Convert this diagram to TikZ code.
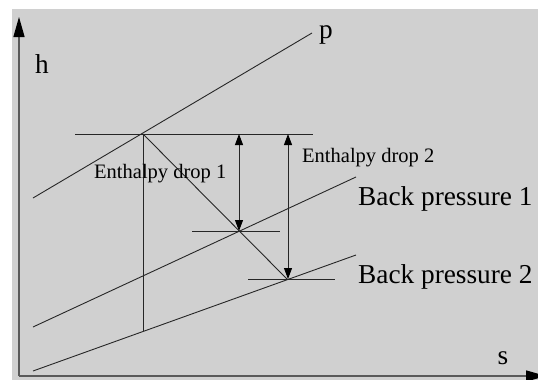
\documentclass[tikz,border=0pt]{standalone}
\usepackage{fontspec}
\setmainfont{Liberation Serif}
\usetikzlibrary{arrows.meta}
\definecolor{panel}{RGB}{208,208,208}

\begin{document}
\begin{tikzpicture}[x=1pt,y=-1pt]

\tikzstyle{LINE} = [line width=0.9pt, black!85]
\tikzstyle{AXIS} = [line width=1.5pt, black!65, -{Triangle[length=20pt,width=11pt,black]}]
\tikzstyle{DROP} = [line width=0.9pt, black!85, {Triangle[length=11pt,width=8pt,black]}-{Triangle[length=11pt,width=8pt,black]}]
\tikzstyle{BIG} = [font=\fontsize{27.3}{27.3}\selectfont, inner sep=0pt]
\tikzstyle{SMALL} = [font=\fontsize{20.5}{20.5}\selectfont, inner sep=0pt]

\useasboundingbox (0,0) rectangle (538,380);
\fill[panel] (12,9) rectangle (538,380);

% axes
\coordinate (O) at (19,376);
\coordinate (htop) at (19,17);
\coordinate (send) at (546,376);
\draw[AXIS] (O) -- (htop);
\draw[AXIS] (O) -- (send);
\node (hlab) [BIG] at (42,64) {h};
\node (slab) [BIG] at (503,358) {s};

% isobars
\coordinate (p0) at (33,198);
\coordinate (p1) at (312,33);
\coordinate (bp1a) at (33,327);
\coordinate (bp1b) at (356,177);
\coordinate (bp2a) at (33,371);
\coordinate (bp2b) at (356,255);
\draw[LINE] (p0) -- (p1);
\draw[LINE] (bp1a) -- (bp1b);
\draw[LINE] (bp2a) -- (bp2b);
\node (plab) [BIG] at (326,35) {p};
\node (bp1lab) [BIG, anchor=base west] at (358,205) {Back pressure 1};
\node (bp2lab) [BIG, anchor=base west] at (358,283) {Back pressure 2};

% expansion lines
\coordinate (A) at (143,134);
\coordinate (B1) at (239,231);
\coordinate (B2) at (287,279);
\coordinate (C) at (143,331);
\draw[LINE] (A) -- (B2);
\draw[LINE] (A) -- (C);

% level lines
\coordinate (t0) at (75,134);
\coordinate (t1) at (313,134);
\coordinate (m0) at (192,231);
\coordinate (m1) at (280,231);
\coordinate (n0) at (248,279);
\coordinate (n1) at (335,279);
\draw[LINE] (t0) -- (t1);
\draw[LINE] (m0) -- (m1);
\draw[LINE] (n0) -- (n1);

% enthalpy drops
\coordinate (d1a) at (239,134);
\coordinate (d2a) at (288,134);
\coordinate (d2b) at (288,279);
\draw[DROP] (d1a) -- (B1);
\draw[DROP] (d2a) -- (d2b);
\node (drop1) [SMALL, anchor=base west] at (94,178) {Enthalpy drop 1};
\node (drop2) [SMALL, anchor=base west] at (302,162) {Enthalpy drop 2};

\end{tikzpicture}
\end{document}
